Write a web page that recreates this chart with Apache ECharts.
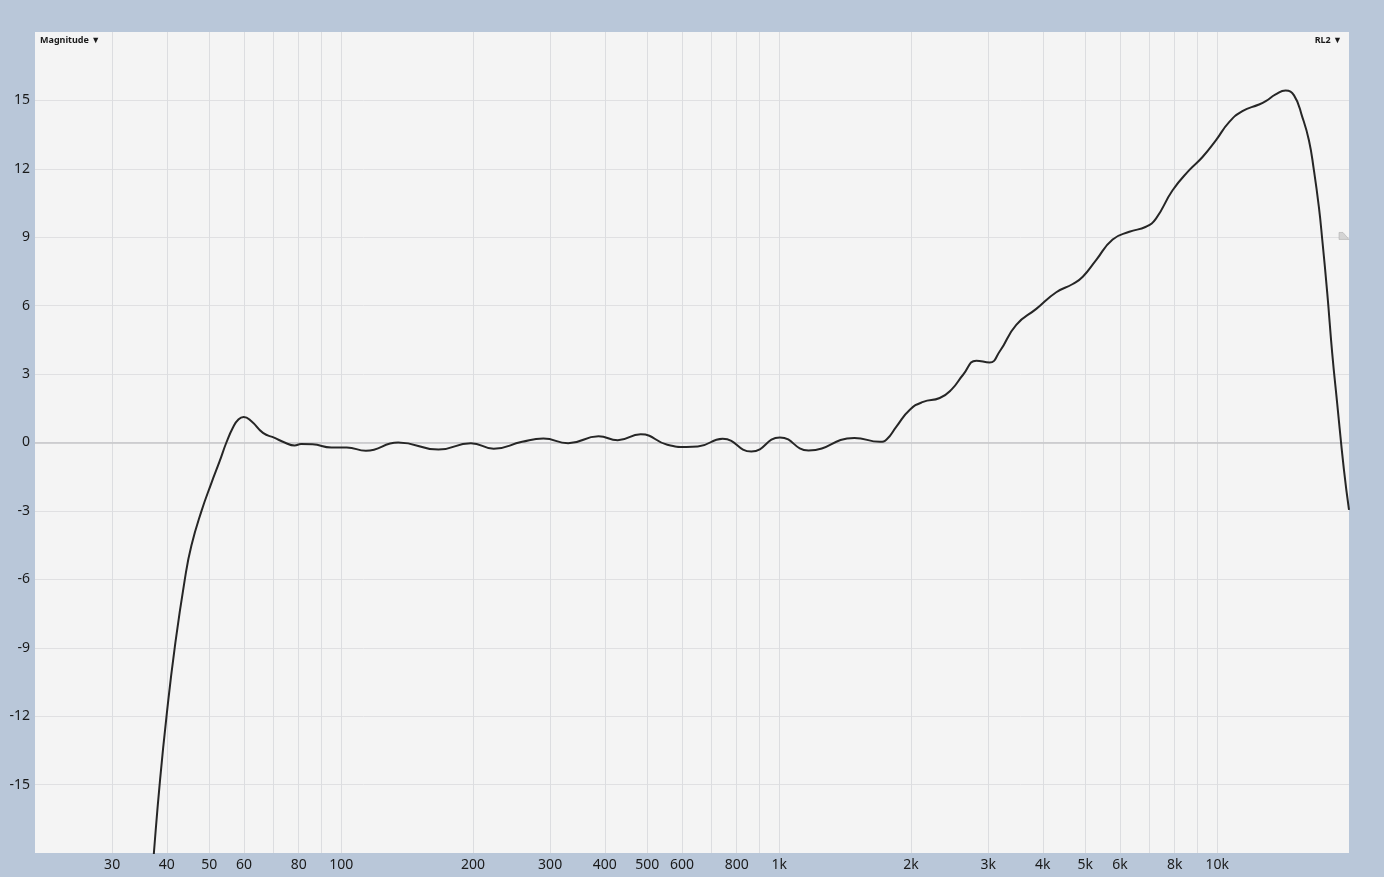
<!DOCTYPE html>
<html>
<head>
<meta charset="utf-8">
<script src="https://cdn.jsdelivr.net/npm/echarts@6/dist/echarts.min.js"></script>
<style>
html,body{margin:0;padding:0;background:#b9c7d9;}
#chart{width:1384px;height:877px;}
</style>
</head>
<body>
<div id="chart"></div>
<script>
// Frequency response (Hz, dB)
const freqs = [36.7, 37.4, 38.56, 39.95, 41.7, 43.97, 45.5, 48.0, 50.6, 52.8, 54.7, 56.7, 58.2, 59.9, 62.4, 66.3, 70.5, 74.3, 78.3, 81, 86, 95, 103, 113.9, 135, 166.8, 197.8, 223, 259, 289.5, 329.8, 387, 428, 483, 555.6, 614, 652, 743, 864, 1004, 1167, 1485, 1699, 1759, 1854, 1988, 2132, 2326, 2474, 2630, 2820, 3024, 3187, 3478, 3864, 4292, 4682, 4934, 5292, 5773, 6302, 6880, 7250, 7912, 8636, 9260, 9932, 10650, 11420, 12460, 12910, 13600, 14330, 14980, 15650, 16200, 16630, 17070, 17380, 17840, 18310, 18790, 19470, 20000];
const levels = [-20, -17.9, -14.88, -11.97, -8.98, -5.99, -4.53, -3.0, -1.76, -0.82, 0.0, 0.68, 1.0, 1.12, 0.93, 0.42, 0.2, 0.0, -0.13, -0.07, -0.08, -0.22, -0.22, -0.36, 0.0, -0.31, -0.03, -0.27, 0.03, 0.17, -0.03, 0.27, 0.1, 0.36, -0.1, -0.2, -0.18, 0.16, -0.4, 0.22, -0.35, 0.2, 0.03, 0.13, 0.71, 1.44, 1.78, 1.95, 2.32, 2.97, 3.59, 3.51, 3.99, 5.16, 5.86, 6.59, 6.95, 7.27, 8.0, 8.9, 9.24, 9.46, 9.82, 11.06, 11.94, 12.52, 13.25, 14.05, 14.53, 14.82, 14.97, 15.26, 15.43, 15.22, 14.27, 13.25, 11.94, 10.33, 8.88, 6.55, 3.92, 1.74, -1.18, -2.95];
const gridFreqs = [30, 40, 50, 60, 70, 80, 90, 100, 200, 300, 400, 500, 600, 700, 800, 900, 1000, 2000, 3000, 4000, 5000, 6000, 7000, 8000, 9000, 10000];
const labelFreqs = [30, 40, 50, 60, 80, 100, 200, 300, 400, 500, 600, 800, 1000, 2000, 3000, 4000, 5000, 6000, 8000, 10000];
const yTicks = [-15, -12, -9, -6, -3, 0, 3, 6, 9, 12, 15];
const freqRange = [20, 20000];
const levelRange = [-18, 18];
const markerLevel = 9.1;

const lg = Math.log10;
const seriesData = freqs.map((f, i) => [lg(f), levels[i]]);

function fmtFreq(v) {
  const f = Math.round(Math.pow(10, v));
  return f >= 1000 ? (f / 1000) + 'k' : String(f);
}

const chart = echarts.init(document.getElementById('chart'), null, {renderer: 'canvas'});
const font = '"Noto Sans", "Open Sans", sans-serif';
chart.setOption({
  backgroundColor: '#b9c7d9',
  animation: false,
  title: [
    {text: 'Magnitude ▼', left: 35, top: 31, textStyle: {fontSize: 9, fontWeight: 'bold', color: '#1a1a1a', fontFamily: font}},
    {text: 'RL2 ▼', right: 37, top: 31, textStyle: {fontSize: 9, fontWeight: 'bold', color: '#1a1a1a', fontFamily: font}}
  ],
  grid: {left: 35, right: 35, top: 32, bottom: 24, show: true, backgroundColor: '#f4f4f4', borderWidth: 0, containLabel: false},
  xAxis: {
    type: 'value',
    min: lg(freqRange[0]),
    max: lg(freqRange[1]),
    axisLine: {show: false},
    axisTick: {show: false, customValues: gridFreqs.map(lg)},
    splitLine: {show: true, lineStyle: {color: '#dcdde0', width: 1}},
    axisLabel: {
      customValues: labelFreqs.map(lg),
      formatter: fmtFreq,
      fontSize: 14, color: '#1a1a1a', fontFamily: font, margin: 5
    }
  },
  yAxis: {
    type: 'value',
    min: levelRange[0],
    max: levelRange[1],
    axisLine: {show: false},
    axisTick: {show: false, customValues: yTicks},
    splitLine: {show: true, lineStyle: {color: '#e0e0e2', width: 1}},
    axisLabel: {customValues: yTicks, fontSize: 14, color: '#1a1a1a', fontFamily: font, margin: 5}
  },
  series: [{
    type: 'line',
    data: seriesData,
    showSymbol: false,
    smooth: 0.5,
    clip: true,
    lineStyle: {color: '#262626', width: 2},
    markLine: {
      silent: true, symbol: 'none', label: {show: false},
      lineStyle: {color: '#c6c6c8', width: 1.5, type: 'solid'},
      data: [{yAxis: 0}]
    },
    markPoint: {
      silent: true,
      symbol: 'path://M0,0 L4,0 L10,6 L0,6 Z',
      symbolSize: [10, 7],
      symbolOffset: [-5, 1],
      itemStyle: {color: '#d4d4d4', borderColor: '#a8a8a8', borderWidth: 0.5},
      label: {show: false},
      data: [{coord: [lg(freqRange[1]), markerLevel]}]
    },
    z: 5
  }]
});
</script>
</body>
</html>
